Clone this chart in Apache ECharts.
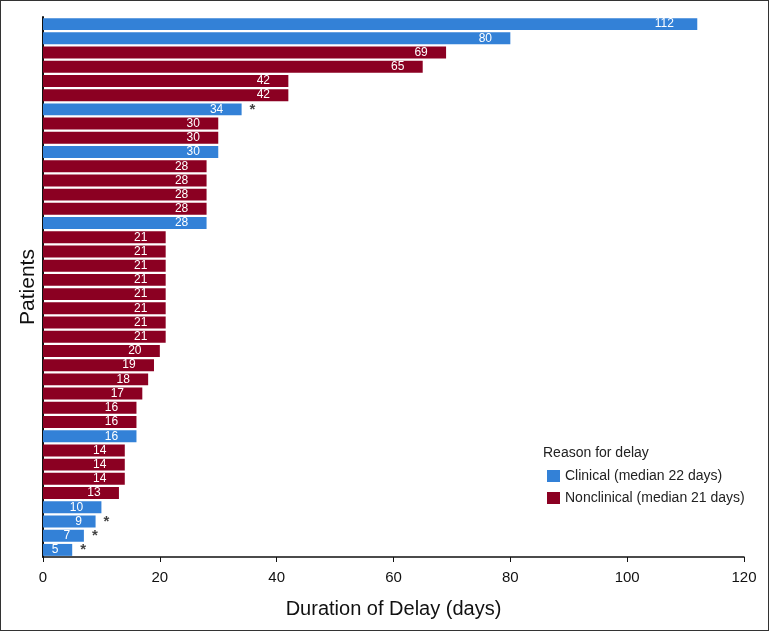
<!DOCTYPE html>
<html><head><meta charset="utf-8">
<script src="https://cdn.jsdelivr.net/npm/echarts@6/dist/echarts.min.js"></script>
<style>
html,body{margin:0;padding:0;background:#fff;}
#c{width:767px;height:629px;border:1px solid #333;}
</style></head>
<body><div id="c"></div>
<script>
// Data (top to bottom)
const patients = Array.from({length:38},(_,i)=>'P'+(i+1));
const reasons = ['C','C','N','N','N','N','C','N','N','C','N','N','N','N','C',
  'N','N','N','N','N','N','N','N','N','N','N','N','N','N','C','N','N','N','N','C','C','C','C'];
const delays = [112,80,69,65,42,42,34,30,30,30,28,28,28,28,28,
  21,21,21,21,21,21,21,21,20,19,18,17,16,16,16,14,14,14,13,10,9,7,5];
const starred = [false,false,false,false,false,false,true,false,false,false,false,false,false,false,false,
  false,false,false,false,false,false,false,false,false,false,false,false,false,false,false,false,false,false,false,false,true,true,true];
const xTicks = [0,20,40,60,80,100,120];
const legendNames = ['Clinical (median 22 days)','Nonclinical (median 21 days)'];

const BLUE = '#3381d7', RED = '#8b0022';
const REG = '"Liberation Sans", Arial, sans-serif';
function item(v){
  return {value:v, label:{distance: 9 + 8*String(v).length}};
}
const clinical = delays.map((v,i)=>reasons[i]==='C'?item(v):'-');
const nonclinical = delays.map((v,i)=>reasons[i]==='N'?item(v):'-');
const stars = delays.map((v,i)=>starred[i]?v:'-');

const barLabel = {show:true, position:'insideRight', align:'center',
  color:'#fff', fontSize:12, fontFamily:REG};

const chart = echarts.init(document.getElementById('c'));
chart.setOption({
  animation:false,
  textStyle:{fontFamily:REG},
  grid:{left:42, right:24, top:16, bottom:73, containLabel:false},
  legend:{
    data:legendNames, orient:'vertical', left:541, top:463, itemWidth:13, itemHeight:12,
    itemGap:8, icon:'rect', textStyle:{fontSize:14, color:'#222', fontFamily:REG}
  },
  graphic:[{type:'text', left:542, top:445, style:{text:'Reason for delay', fontSize:14, fill:'#222',
    fontFamily:REG}}],
  xAxis:{
    type:'value', min:0, max:120, interval:20,
    name:'Duration of Delay (days)', nameLocation:'middle', nameGap:42,
    nameTextStyle:{fontSize:20, color:'#111'},
    axisLine:{show:true, lineStyle:{color:'#111', width:1.5}},
    axisTick:{show:true, length:5, lineStyle:{color:'#111'}},
    axisLabel:{fontSize:15, color:'#111', margin:13},
    splitLine:{show:false}
  },
  yAxis:{
    type:'category', data:patients, inverse:true,
    name:'Patients', nameLocation:'middle', nameGap:4, nameRotate:90,
    nameTextStyle:{fontSize:21, color:'#111'},
    axisLine:{show:true, lineStyle:{color:'#111', width:2}},
    axisTick:{show:false}, axisLabel:{show:false}
  },
  series:[
    {name:legendNames[0], type:'bar', data:clinical, barGap:'-100%', barCategoryGap:'16%',
      itemStyle:{color:BLUE}, label:barLabel},
    {name:legendNames[1], type:'bar', data:nonclinical, barGap:'-100%', barCategoryGap:'16%',
      itemStyle:{color:RED}, label:barLabel},
    {name:'star', type:'scatter', data:stars, symbolSize:0, silent:true,
      label:{show:true, position:'right', distance:8, formatter:'*', color:'#111', fontSize:15, fontWeight:'bold'}}
  ]
});
</script></body></html>
